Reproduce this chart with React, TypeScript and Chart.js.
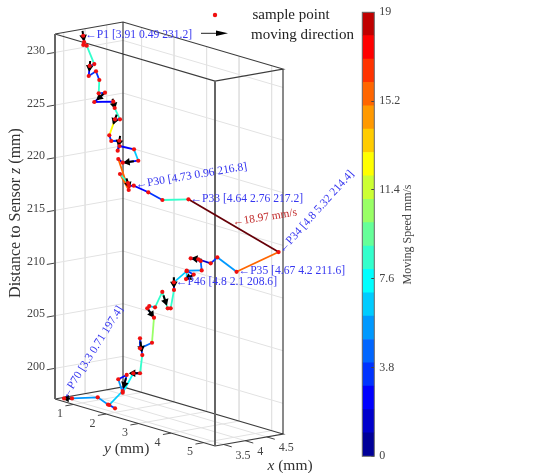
import React, { useEffect, useRef } from "react";
import { Chart, registerables } from "chart.js";

Chart.register(...registerables);

// Trajectory samples, P1 to P70 (mm)
const xValues = [3.91,3.93,3.95,3.97,4.0,4.02,4.05,4.08,4.1,4.13,4.15,4.18,4.2,4.22,4.25,4.27,4.3,4.32,4.35,4.37,4.4,4.42,4.45,4.48,4.5,4.55,4.6,4.65,4.7,4.73,4.7,4.68,4.64,4.8,4.67,4.7,4.72,4.74,4.76,4.75,4.74,4.76,4.75,4.77,4.78,4.8,4.78,4.7,4.65,4.6,4.55,4.5,4.45,4.4,4.35,4.3,4.25,4.2,4.15,4.1,4.0,3.95,3.9,3.85,3.75,3.7,3.65,3.55,3.4,3.3];
const yValues = [0.49,0.49,0.44,0.518,0.712,0.544,0.474,0.658,0.734,0.675,0.842,0.474,1.03,1.048,1.171,0.991,0.776,0.811,1.018,0.942,0.957,1.377,1.469,0.95,0.788,1.042,0.708,0.888,0.853,0.96,1.446,1.906,2.76,5.32,4.2,3.568,3.338,2.931,2.67,2.991,3.035,2.547,2.776,2.513,2.521,2.1,2.13,2.135,2.109,2.009,1.851,1.741,1.746,2.018,2.023,1.72,1.786,1.923,1.919,1.779,1.585,1.516,1.841,1.784,1.504,1.746,1.596,1.412,0.82,0.71];
const zValues = [231.2,230.59,230.25,230.24,228.65,228.3,227.26,227.85,227.08,225.74,225.94,224.7,225.22,224.62,223.64,223.46,221.72,221.2,221.39,220.36,220.8,220.85,219.83,219.15,219.34,216.59,217.77,217.04,216.69,216.8,216.63,216.33,217.2,214.4,211.6,212.38,211.59,211.59,211.43,211.47,210.62,210.14,209.99,209.31,210.06,208.6,207.92,206.24,206.25,207.75,206.18,206.24,206.07,205.46,203.12,202.35,203.4,201.97,200.27,200.18,198.23,199.48,200.22,198.68,197.17,197.11,197.37,197.96,197.42,197.4];
// Speed of each segment (mm/s)
const speeds = [2.5,2.5,3.5,8.5,3,2.5,3.5,3.5,8.5,3.5,2.5,2.5,2.5,8.5,2.5,12.5,3.5,3.5,3.5,1.5,2.5,6.5,2.5,1.5,15.5,15.5,8.5,2.5,2.5,2.5,3,8.5,18.97,15.5,5.5,3.5,1.5,1.5,2.5,4.5,5.5,3.5,4.5,6.5,6.5,2.5,8.5,2.5,8.5,8.5,6.5,2.5,4.5,10.5,4.5,3.5,3.5,8.5,2.5,7.5,5.5,2.5,3.5,6.5,3.5,3.5,5,5,4.5];

// Moving-direction arrows: sample number, place along its segment, heading
const arrowSamples = [1,6,11,13,16,19,23,28,38,43,46,49,53,57,59,63,69];
const arrowPlaces = [0,0,0.4,0.3,0,0,0.6,0,0.2,0.5,0,0.5,0.5,0.5,0.8,0.5,0.5];
const arrowHeadings = [1,1,1,1,1,1,1,1,1,1,1,-1,1,1,1,1,1];

// Annotated samples
const labelledSamples = [1,30,33,34,35,46,70];
const labelAngles = [0,-9.5,0,-48,0,0,-58];
const peakSpeedLabel = "\u219018.97 mm/s";

// Axes
const xTicks = [3.5,4,4.5];
const yTicks = [1,2,3,4,5];
const zTicks = [200,205,210,215,220,225,230];
const xLim = [3.3,4.88];
const yLim = [0.43,5.35];
const zLim = [197.09,231.75];

// Colour bar
const barColors = ["#000099","#0000cc","#0000ff","#0033ff","#0066ff","#0099ff","#00ccff","#00ffff","#33ffcc","#66ff99","#99ff66","#ccff33","#ffff00","#ffcc00","#ff9900","#ff6600","#ff3300","#ff0000","#c00000"];
const barTicks = [0,3.8,7.6,11.4,15.2,19];
const barTitle = "Moving Speed mm/s";
const peakColor = "#660008";

const serif = "'Liberation Serif'";
const inkGray = "#444";

// Orthographic view of the box
function project(x: number, y: number, z: number) {
  return {
    x: 53.5 + 32.52 * (y - 0.45) + 43.04 * (x - 3.25),
    y: 400.5 + 9.553 * (y - 0.45) - 7.59 * (x - 3.25) - 10.53 * (z - 197),
  };
}
const GAP = { x: NaN, y: NaN };

function polylines(lines: number[][][]) {
  const out: { x: number; y: number }[] = [];
  lines.forEach((l) => {
    l.forEach((p) => out.push(project(p[0], p[1], p[2])));
    out.push(GAP);
  });
  return out;
}

const [x0, x1] = xLim;
const [y0, y1] = yLim;
const [z0, z1] = zLim;

const gridData = polylines([
  ...zTicks.map((z) => [[x0, y0, z], [x1, y0, z], [x1, y1, z]]),
  ...xTicks.map((x) => [[x, y0, z1], [x, y0, z0], [x, y1, z0]]),
  ...yTicks.map((y) => [[x1, y, z1], [x1, y, z0], [x0, y, z0]]),
]);
const tickData = polylines([
  ...zTicks.map((z) => [[x0, y0, z], [x0 - 0.19, y0, z]]),
  ...yTicks.map((y) => [[x0, y, z0], [x0 - 0.19, y, z0]]),
  ...xTicks.map((x) => [[x, y1, z0], [x, y1 + 0.25, z0]]),
]);
const edgeData = polylines([
  [[x0, y0, z1], [x1, y0, z1], [x1, y1, z1], [x0, y1, z1], [x0, y0, z1]],
  [[x0, y0, z0], [x1, y0, z0], [x1, y1, z0], [x0, y1, z0], [x0, y0, z0]],
  [[x1, y0, z0], [x1, y0, z1]],
  [[x1, y1, z0], [x1, y1, z1]],
]);
const thickEdgeData = polylines([
  [[x0, y0, z0], [x0, y0, z1]],
  [[x0, y1, z0], [x0, y1, z1]],
]);

const pathData = xValues.map((x, i) => project(x, yValues[i], zValues[i]));

const shaftData: { x: number; y: number }[] = [];
const headData: { x: number; y: number }[] = [];
const headAngles: number[] = [];
arrowSamples.forEach((s, k) => {
  const a = pathData[s - 1];
  const b = pathData[s];
  const t = arrowPlaces[k];
  const c = { x: a.x + (b.x - a.x) * t, y: a.y + (b.y - a.y) * t };
  const n = Math.hypot(b.x - a.x, b.y - a.y) || 1;
  const ux = ((b.x - a.x) / n) * arrowHeadings[k];
  const uy = ((b.y - a.y) / n) * arrowHeadings[k];
  shaftData.push({ x: c.x - ux * 5, y: c.y - uy * 5 }, { x: c.x + ux * 4, y: c.y + uy * 4 }, GAP);
  headData.push({ x: c.x + ux * 1.5, y: c.y + uy * 1.5 });
  headAngles.push((Math.atan2(ux, -uy) * 180) / Math.PI);
});

function speedColor(v: number) {
  if (v > 18.9) return peakColor;
  return barColors[Math.min(barColors.length - 1, Math.floor(v))];
}

type Run = { t: string; italic?: boolean };
function drawRuns(ctx: CanvasRenderingContext2D, runs: Run[], size: number, cx: number, cy: number, angle: number, color: string) {
  ctx.save();
  ctx.translate(cx, cy);
  ctx.rotate((angle * Math.PI) / 180);
  ctx.fillStyle = color;
  ctx.textBaseline = "middle";
  ctx.textAlign = "left";
  let total = 0;
  runs.forEach((r) => {
    ctx.font = `${r.italic ? "italic " : ""}${size}px ${serif}`;
    total += ctx.measureText(r.t).width;
  });
  let at = -total / 2;
  runs.forEach((r) => {
    ctx.font = `${r.italic ? "italic " : ""}${size}px ${serif}`;
    ctx.fillText(r.t, at, 0);
    at += ctx.measureText(r.t).width;
  });
  ctx.restore();
}

function drawAnchored(ctx: CanvasRenderingContext2D, text: string, size: number, x: number, y: number, angle: number, color: string, align: CanvasTextAlign = "left") {
  ctx.save();
  ctx.translate(x, y);
  ctx.rotate((angle * Math.PI) / 180);
  ctx.font = `${size}px ${serif}`;
  ctx.fillStyle = color;
  ctx.textAlign = align;
  ctx.textBaseline = "middle";
  ctx.fillText(text, 0, 0);
  ctx.restore();
}

const textPlugin = {
  id: "texts",
  afterDraw(chart: any) {
    const ctx: CanvasRenderingContext2D = chart.ctx;
    const sx = chart.scales.x;
    const sy = chart.scales.y;
    const at = (p: { x: number; y: number }) => ({ x: sx.getPixelForValue(p.x), y: sy.getPixelForValue(p.y) });

    zTicks.forEach((z) => {
      const p = at(project(x0, y0, z));
      drawAnchored(ctx, String(z), 12, p.x - 10, p.y - 1.5, 0, inkGray, "right");
    });
    yTicks.forEach((y) => {
      const p = at(project(x0, y, z0));
      drawAnchored(ctx, String(y), 12, p.x - 13.5, p.y + 9.5, 0, inkGray, "center");
    });
    xTicks.forEach((x) => {
      const p = at(project(x, y1, z0));
      drawAnchored(ctx, String(x), 12, p.x + 12, p.y + 11, 0, inkGray, "left");
    });

    drawRuns(ctx, [{ t: "y", italic: true }, { t: " (mm)" }], 15.5, 126.7, 449, 0, "#333");
    drawRuns(ctx, [{ t: "x", italic: true }, { t: " (mm)" }], 15.5, 290, 466, 0, "#333");
    drawRuns(ctx, [{ t: "Distance to Sensor " }, { t: "z", italic: true }, { t: " (mm)" }], 16, 16, 213, -90, "#333");
    drawAnchored(ctx, barTitle, 12, 408, 234.5, -90, inkGray, "center");

    labelledSamples.forEach((s, k) => {
      const i = s - 1;
      const p = at(pathData[i]);
      const text = `\u2190P${s} [${xValues[i]} ${yValues[i]} ${zValues[i]}]`;
      const dx = s === 70 ? 0 : 2;
      drawAnchored(ctx, text, 11.6, p.x + dx, p.y - (k === 0 ? 1 : 0.5), labelAngles[k], "#3636f0");
    });
    const a = at(pathData[32]);
    const b = at(pathData[33]);
    drawAnchored(ctx, peakSpeedLabel, 11.4, (a.x + b.x) / 2 - 1, (a.y + b.y) / 2 - 3, -9, "#c02828");

    // Legend
    ctx.save();
    ctx.fillStyle = "#f01010";
    ctx.beginPath();
    ctx.arc(215, 15, 2.2, 0, Math.PI * 2);
    ctx.fill();
    ctx.strokeStyle = "#222";
    ctx.lineWidth = 1;
    ctx.beginPath();
    ctx.moveTo(201, 33.3);
    ctx.lineTo(218, 33.3);
    ctx.stroke();
    ctx.fillStyle = "#000";
    ctx.beginPath();
    ctx.moveTo(228, 33.3);
    ctx.lineTo(216, 30.6);
    ctx.lineTo(216, 36);
    ctx.closePath();
    ctx.fill();
    ctx.restore();
    drawAnchored(ctx, "sample point", 15, 252.5, 15.5, 0, "#222");
    drawAnchored(ctx, "moving direction", 15, 251, 35, 0, "#222");
  },
};

const barFramePlugin = {
  id: "barFrame",
  afterDraw(chart: any) {
    const { left, top, width, height } = chart.chartArea;
    const ctx: CanvasRenderingContext2D = chart.ctx;
    ctx.save();
    ctx.strokeStyle = "#666";
    ctx.lineWidth = 1;
    ctx.strokeRect(left, top, width, height);
    ctx.restore();
  },
};

export default function App() {
  const mainRef = useRef<HTMLCanvasElement>(null);
  const barRef = useRef<HTMLCanvasElement>(null);

  useEffect(() => {
    const base = { showLine: true, pointRadius: 0, spanGaps: false };
    const main = new Chart(mainRef.current!, {
      type: "scatter",
      data: {
        datasets: [
          { label: "sample point", data: pathData, pointRadius: 2.1, pointBackgroundColor: "#f01010", pointBorderWidth: 0, showLine: false },
          { label: "arrow heads", data: headData, pointStyle: "triangle", pointRotation: headAngles, pointRadius: 4.4, pointBackgroundColor: "#000", pointBorderWidth: 0, showLine: false },
          { label: "arrow shafts", data: shaftData, ...base, borderColor: "#000", borderWidth: 2 },
          {
            label: "path",
            data: pathData,
            ...base,
            borderWidth: 1.8,
            borderColor: "#0000ff",
            segment: { borderColor: (c: any) => speedColor(speeds[c.p0DataIndex]) },
          },
          { label: "thick edges", data: thickEdgeData, ...base, borderColor: "#666", borderWidth: 2 },
          { label: "edges", data: edgeData, ...base, borderColor: "#3c3c3c", borderWidth: 1.2 },
          { label: "ticks", data: tickData, ...base, borderColor: "#444", borderWidth: 1 },
          { label: "grid", data: gridData, ...base, borderColor: "#e2e2e2", borderWidth: 1 },
        ],
      } as any,
      options: {
        responsive: false,
        animation: false,
        devicePixelRatio: 1,
        layout: { padding: 0, autoPadding: false },
        events: [],
        plugins: { legend: { display: false }, tooltip: { enabled: false } },
        scales: {
          x: { type: "linear", display: false, min: 0, max: 549 },
          y: { type: "linear", display: false, min: 0, max: 473, reverse: true },
        },
      } as any,
      plugins: [textPlugin],
    });

    const bar = new Chart(barRef.current!, {
      type: "bar",
      data: {
        labels: ["speed"],
        datasets: barColors.map((c, i) => ({
          label: String(i),
          data: [1],
          backgroundColor: c,
          stack: "bar",
          barPercentage: 1,
          categoryPercentage: 1,
        })),
      },
      options: {
        responsive: false,
        animation: false,
        devicePixelRatio: 1,
        events: [],
        layout: { padding: { left: 12.3, top: 12.3, bottom: 16.7, right: 0 }, autoPadding: false },
        plugins: { legend: { display: false }, tooltip: { enabled: false } },
        scales: {
          x: { display: false, stacked: true },
          y: {
            type: "linear",
            position: "right",
            stacked: true,
            min: 0,
            max: 19,
            afterBuildTicks: (s: any) => {
              s.ticks = barTicks.map((v) => ({ value: v }));
            },
            afterFit: (s: any) => {
              s.width = 55.7;
              s.paddingTop = 0;
              s.paddingBottom = 0;
            },
            border: { display: false },
            grid: { drawOnChartArea: false, tickLength: -3, tickColor: "#444", z: 1 },
            ticks: {
              padding: 8,
              color: inkGray,
              font: { family: serif, size: 12 },
              autoSkip: false,
              maxRotation: 0,
              callback: (v: any) => String(v),
            },
          },
        },
      } as any,
      plugins: [barFramePlugin],
    });

    return () => {
      main.destroy();
      bar.destroy();
    };
  }, []);

  return (
    <div style={{ position: "absolute", left: 0, top: 0, width: 549, height: 473, background: "#fff" }}>
      <canvas ref={mainRef} width={549} height={473} style={{ position: "absolute", left: 0, top: 0, display: "block" }} />
      <canvas ref={barRef} width={80} height={473} style={{ position: "absolute", left: 350, top: 0, display: "block" }} />
    </div>
  );
}
